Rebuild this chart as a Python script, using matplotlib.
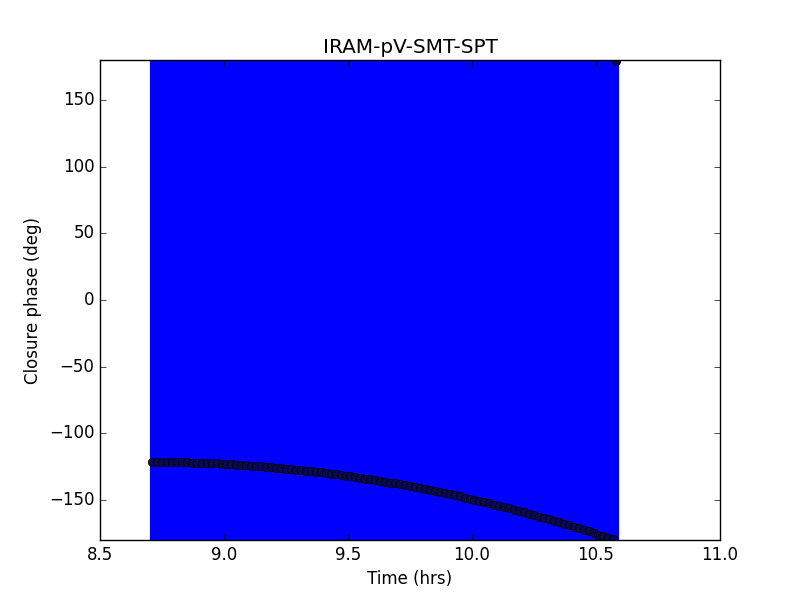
import matplotlib
matplotlib.use("Agg")
import matplotlib.pyplot as plt

plt.style.use("classic")

# closure phase samples (hrs, deg)
time = [8.71, 8.73, 8.75, 8.77, 8.79, 8.81, 8.83, 8.85, 8.87, 8.89,
        8.91, 8.93, 8.95, 8.97, 8.99, 9.01, 9.03, 9.05, 9.07, 9.09,
        9.11, 9.13, 9.15, 9.17, 9.19, 9.21, 9.23, 9.25, 9.27, 9.29,
        9.31, 9.33, 9.35, 9.37, 9.39, 9.41, 9.43, 9.45, 9.47, 9.49,
        9.51, 9.53, 9.55, 9.57, 9.59, 9.61, 9.63, 9.65, 9.67, 9.69,
        9.71, 9.73, 9.75, 9.77, 9.79, 9.81, 9.83, 9.85, 9.87, 9.89,
        9.91, 9.93, 9.95, 9.97, 9.99, 10.01, 10.03, 10.05, 10.07, 10.09,
        10.11, 10.13, 10.15, 10.17, 10.19, 10.21, 10.23, 10.25, 10.27, 10.29,
        10.31, 10.33, 10.35, 10.37, 10.39, 10.41, 10.43, 10.45, 10.47, 10.49,
        10.51, 10.53, 10.55, 10.57, 10.58]

phase = [-121.5, -121.5, -121.5, -121.6, -121.6, -121.7, -121.7, -121.8, -121.9, -122.0,
         -122.2, -122.3, -122.5, -122.6, -122.8, -123.0, -123.2, -123.4, -123.7, -123.9,
         -124.2, -124.5, -124.8, -125.1, -125.4, -125.7, -126.0, -126.4, -126.8, -127.2,
         -127.5, -128.0, -128.4, -128.8, -129.3, -129.7, -130.2, -130.7, -131.2, -131.7,
         -132.3, -132.8, -133.4, -133.9, -134.5, -135.1, -135.7, -136.3, -137.0, -137.6,
         -138.3, -139.0, -139.7, -140.4, -141.1, -141.8, -142.6, -143.3, -144.1, -144.9,
         -145.7, -146.5, -147.3, -148.2, -149.0, -149.9, -150.8, -151.7, -152.6, -153.5,
         -154.4, -155.4, -156.3, -157.3, -158.3, -159.3, -160.3, -161.3, -162.4, -163.4,
         -164.5, -165.6, -166.7, -167.8, -168.9, -170.1, -171.2, -172.4, -173.5, -174.7,
         -175.9, -177.2, -178.4, -179.6, 179.2]

# error bars are huge, they cover the whole phase range
phase_err = 400

fig = plt.figure(figsize=(8, 6), dpi=100)
ax = fig.add_subplot(111)

ax.errorbar(time, phase, yerr=phase_err, fmt="o", color="b",
            ecolor="b", elinewidth=3.7, capsize=0,
            markerfacecolor="#0a0a50", markeredgecolor="k", markersize=6)

ax.set_xlim(8.5, 11.0)
ax.set_ylim(-180, 180)
ax.set_title("IRAM-pV-SMT-SPT")
ax.set_xlabel("Time (hrs)")
ax.set_ylabel("Closure phase (deg)")

fig.savefig("out.png", dpi=100)
